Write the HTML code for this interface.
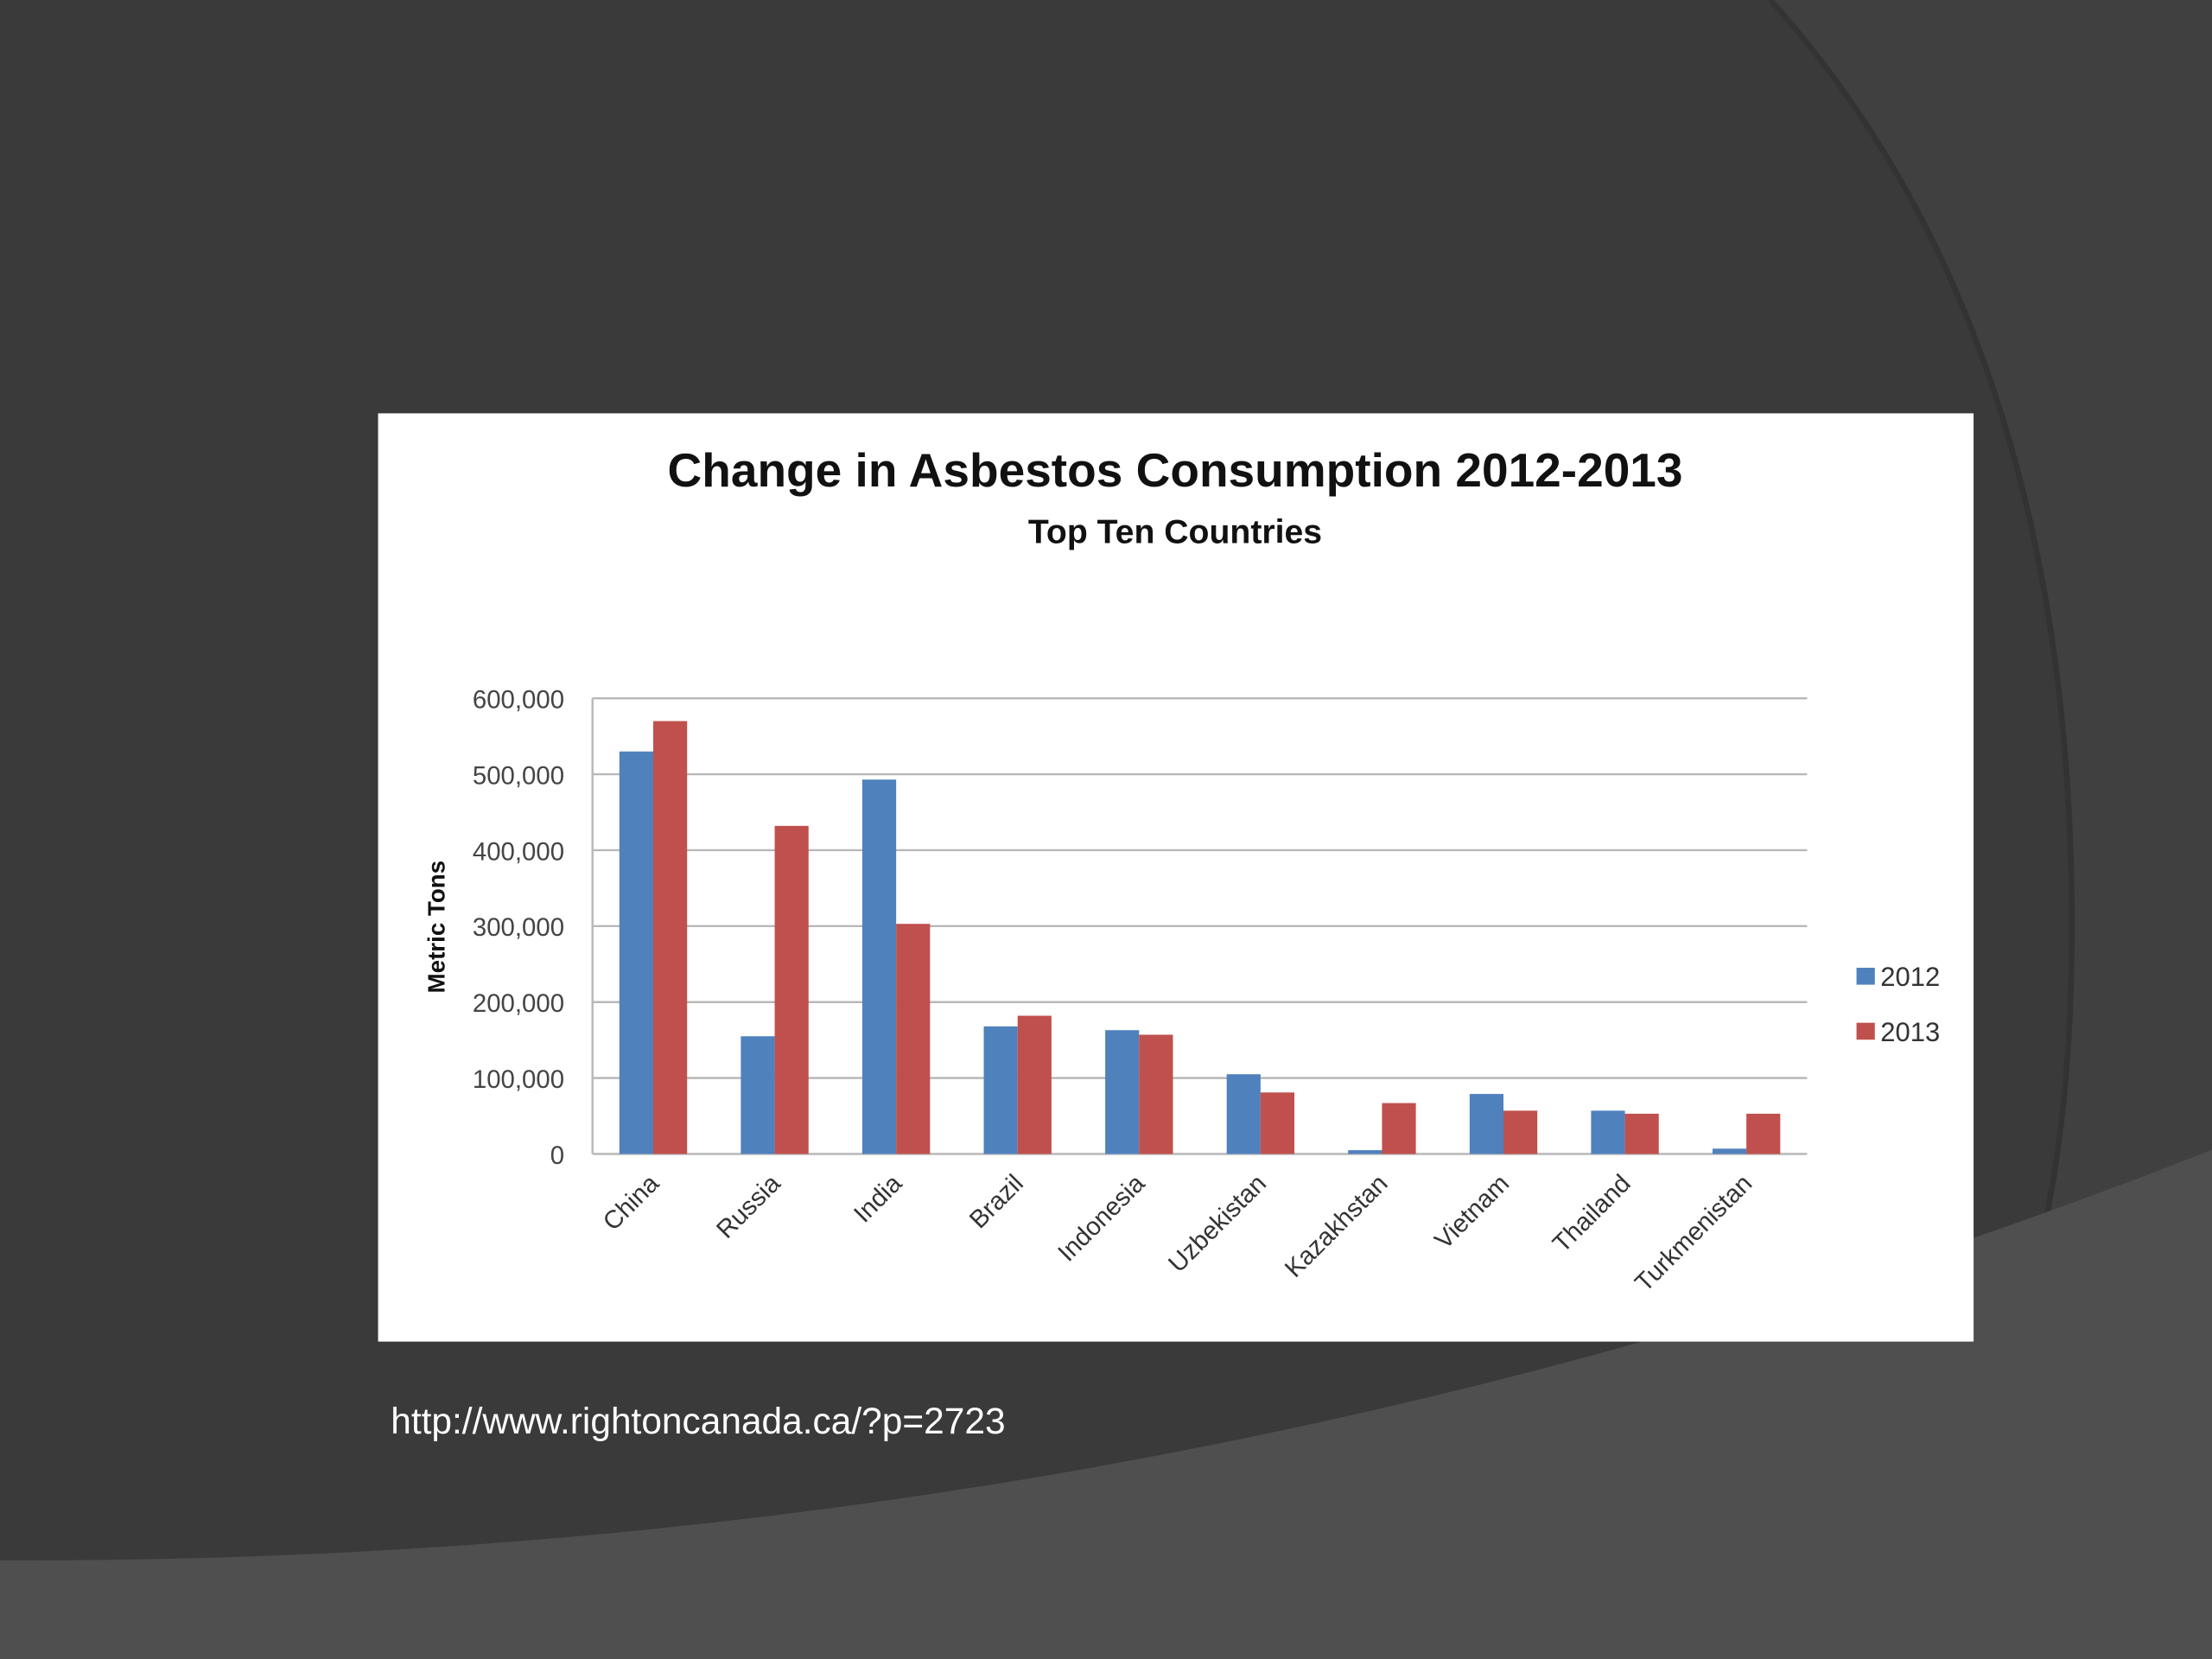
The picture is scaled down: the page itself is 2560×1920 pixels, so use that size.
<!DOCTYPE html>
<html><head><meta charset="utf-8"><style>
html,body{margin:0;padding:0;background:#3a3a3a;}
svg{display:block;}
text{font-family:"Liberation Sans",sans-serif;}
</style></head><body>
<svg id="chart" width="2560" height="1920" viewBox="0 0 1568 1176" xmlns="http://www.w3.org/2000/svg">
<rect x="0" y="0" width="1568" height="1176" fill="#3a3a3a"/>
<path d="M1255,0 Q1480,250 1468,700 Q1460,1000 1300,1176 L1568,1176 L1568,0 Z" fill="#404040"/>
<path d="M1255,0 Q1480,250 1468,700 Q1460,1000 1300,1176" fill="none" stroke="#333" stroke-width="4"/>
<path d="M0,1106 Q820,1110 1568,815 L1568,1176 L0,1176 Z" fill="#4f4f4f"/>
<rect x="268" y="293" width="1131" height="658" fill="#ffffff"/>
<text x="833" y="345" text-anchor="middle" font-size="33.7" font-weight="bold" fill="#111">Change in Asbestos Consumption 2012-2013</text>
<text x="833" y="385" text-anchor="middle" font-size="24" font-weight="bold" fill="#111">Top Ten Countries</text>
<text transform="translate(315,657) rotate(-90)" text-anchor="middle" font-size="17" font-weight="bold" fill="#111">Metric Tons</text>
<g id="grid"></g><g id="bars"></g><g id="xlabels"></g>
<rect x="1316" y="686" width="13" height="12" fill="#4f81bd"/>
<text x="1333" y="699" font-size="19" fill="#333">2012</text>
<rect x="1316" y="725" width="13" height="12" fill="#c0504d"/>
<text x="1333" y="738" font-size="19" fill="#333">2013</text>
<text x="277" y="1016" font-size="26" fill="#ffffff">http://www.rightoncanada.ca/?p=2723</text>
</svg>
<script>
const categories=["China","Russia","India","Brazil","Indonesia","Uzbekistan","Kazakhstan","Vietnam","Thailand","Turkmenistan"];
const values2012=[530000,155000,493000,168000,163000,105000,5000,79000,57000,7000];
const values2013=[570000,432000,303000,182000,157000,81000,67000,57000,53000,53000];
const yTicks=[0,100000,200000,300000,400000,500000,600000];
const yTickLabels=["0","100,000","200,000","300,000","400,000","500,000","600,000"];
const NS="http://www.w3.org/2000/svg";
const X0=420,X1=1281,Y0=818,Y1=495,YMAX=600000;
const band=(X1-X0)/categories.length;
function y(v){return Y0-(v/YMAX)*(Y0-Y1);}
function x(i){return X0+i*band;}
function mk(tag,attrs,parent){const e=document.createElementNS(NS,tag);for(const k in attrs)e.setAttribute(k,attrs[k]);parent.appendChild(e);return e;}
const grid=document.getElementById('grid'),bars=document.getElementById('bars'),xl=document.getElementById('xlabels');
yTicks.forEach((t,i)=>{
  const l=mk('line',{x1:X0,x2:X1,y1:y(t),y2:y(t),stroke:'#b8b8b8','stroke-width':1.5},grid);
  
  
  const tx=mk('text',{x:400,y:y(t)+7,'text-anchor':'end','font-size':18,fill:'#444'},grid);
  tx.textContent=yTickLabels[i];
  
  
});
const ax=mk('line',{x1:X0,x2:X0,y1:Y1,y2:Y0,stroke:'#b8b8b8','stroke-width':1.5},grid);


const bw=24;
categories.forEach((c,i)=>{
  const cx=x(i)+band/2;
  const b1=mk('rect',{x:cx-bw,y:y(values2012[i]),width:bw,height:Y0-y(values2012[i]),fill:'#4f81bd'},bars);
  
  
  const b2=mk('rect',{x:cx,y:y(values2013[i]),width:bw,height:Y0-y(values2013[i]),fill:'#c0504d'},bars);
  
  
  const t=mk('text',{transform:`translate(${cx+5},${Y0+22}) rotate(-45)`,'text-anchor':'end','font-size':18,fill:'#333'},xl);
  t.textContent=c;
  
  
});
</script>
</body></html>
